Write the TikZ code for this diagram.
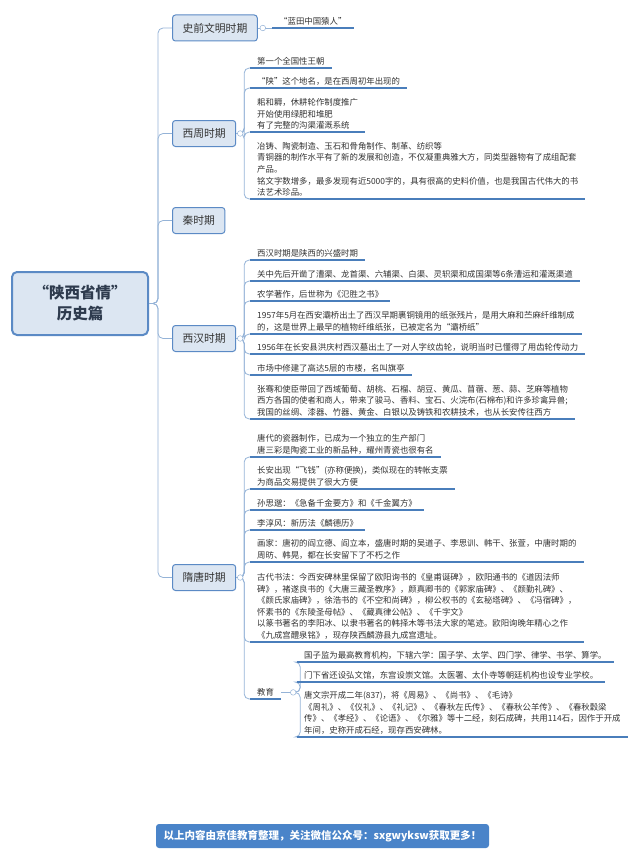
\documentclass[tikz,border=0pt]{standalone}
\usepackage{fontspec}
\newfontfamily\cjk{Noto Sans CJK SC}
\usetikzlibrary{positioning}
\definecolor{lineblue}{HTML}{4A7EBB}
\definecolor{trunkblue}{HTML}{95B3D7}
\definecolor{boxfill}{HTML}{DCE6F2}
\definecolor{boxedge}{HTML}{5B8AC5}
\definecolor{bannerblue}{HTML}{4A84C9}
\definecolor{txt}{HTML}{333333}
\definecolor{roottxt}{HTML}{2E3B4E}
\tikzset{root/.style={draw=boxedge,line width=2pt,fill=boxfill,rounded corners=5pt,minimum width=136,minimum height=63,align=center,font=\cjk\bfseries\fontsize{15.5}{21}\selectfont,text=roottxt}}
\tikzset{period/.style={draw=boxedge,line width=1pt,fill=boxfill,rounded corners=3pt,minimum height=26,inner xsep=10pt,anchor=west,font=\cjk\fontsize{10.8}{13}\selectfont,text=txt}}
\tikzset{item/.style={anchor=south west,inner xsep=7pt,inner ysep=2.5pt,align=left,font=\cjk\fontsize{8.4}{11.6}\selectfont,text=txt}}
\tikzset{uline/.style={draw=lineblue,line width=1.6pt}}
\tikzset{trunk/.style={draw=trunkblue,line width=0.8pt,rounded corners=5pt}}
\tikzset{knob/.style={draw=trunkblue,fill=white,line width=0.5pt}}
\tikzset{banner/.style={fill=bannerblue,rounded corners=3pt,minimum width=333,minimum height=24,font=\cjk\bfseries\fontsize{10.5}{12}\selectfont,text=white}}

\begin{document}
\begin{tikzpicture}[x=1pt,y=-1pt]
  \useasboundingbox (0,0) rectangle (640,859);
  \node[root] (root) at (80,303.5) {“陕西省情”\\历史篇};
  \node[period] (shiqian) at (172,28) {史前文明时期};
  \node[period] (xizhou) at (172,133.5) {西周时期};
  \node[period] (qin) at (172,220.5) {秦时期};
  \node[period] (xihan) at (172,338.5) {西汉时期};
  \node[period] (suitang) at (172,577.5) {隋唐时期};

  \node[item] (lantian) at (272,28) {“蓝田中国猿人”};

  \node[item] (zhou1) at (250,68) {第一个全国性王朝};
  \node[item] (zhou2) at (250,88) {“陕”这个地名，是在西周初年出现的};
  \node[item] (zhou3) at (250,132) {耜和耨，休耕轮作制度推广\\开始使用绿肥和堆肥\\有了完整的沟渠灌溉系统};
  \node[item] (zhou4) at (250,199) {冶铸、陶瓷制造、玉石和骨角制作、制革、纺织等\\青铜器的制作水平有了新的发展和创造，不仅凝重典雅大方，同类型器物有了成组配套\\产品。\\铭文字数增多，最多发现有近5000字的，具有很高的史料价值，也是我国古代伟大的书\\法艺术珍品。};

  \node[item] (han1) at (250,260) {西汉时期是陕西的兴盛时期};
  \node[item] (han2) at (250,281) {关中先后开凿了漕渠、龙首渠、六辅渠、白渠、灵轵渠和成国渠等6条漕运和灌溉渠道};
  \node[item] (han3) at (250,301) {农学著作，后世称为《氾胜之书》};
  \node[item] (han4) at (250,334) {1957年5月在西安灞桥出土了西汉早期裹铜镜用的纸张残片，是用大麻和苎麻纤维制成\\的，这是世界上最早的植物纤维纸张，已被定名为“灞桥纸”};
  \node[item] (han5) at (250,354) {1956年在长安县洪庆村西汉墓出土了一对人字纹齿轮，说明当时已懂得了用齿轮传动力};
  \node[item] (han6) at (250,375) {市场中修建了高达5层的市楼，名叫旗亭};
  \node[item] (han7) at (250,419) {张骞和使臣带回了西域葡萄、胡桃、石榴、胡豆、黄瓜、苜蓿、葱、蒜、芝麻等植物\\西方各国的使者和商人，带来了骏马、香料、宝石、火浣布(石棉布)和许多珍禽异兽;\\我国的丝绸、漆器、竹器、黄金、白银以及铸铁和农耕技术，也从长安传往西方};

  \node[item] (tang1) at (250,457) {唐代的瓷器制作，已成为一个独立的生产部门\\唐三彩是陶瓷工业的新品种，耀州青瓷也很有名};
  \node[item] (tang2) at (250,489) {长安出现“飞钱”(亦称便换)，类似现在的转帐支票\\为商品交易提供了很大方便};
  \node[item] (tang3) at (250,510) {孙思邈：《急备千金要方》和《千金翼方》};
  \node[item] (tang4) at (250,530) {李淳风：新历法《麟德历》};
  \node[item] (tang5) at (250,562) {画家：唐初的阎立德、阎立本，盛唐时期的吴道子、李思训、韩干、张萱，中唐时期的\\周昉、韩晃，都在长安留下了不朽之作};
  \node[item] (tang6) at (250,642) {古代书法：今西安碑林里保留了欧阳询书的《皇甫诞碑》，欧阳通书的《道因法师\\碑》，褚遂良书的《大唐三藏圣教序》，颜真卿书的《郭家庙碑》、《颜勤礼碑》、\\《颜氏家庙碑》，徐浩书的《不空和尚碑》，柳公权书的《玄秘塔碑》、《冯宿碑》，\\怀素书的《东陵圣母帖》、《藏真律公帖》、《千字文》\\以篆书著名的李阳冰、以隶书著名的韩择木等书法大家的笔迹。欧阳询晚年精心之作\\《九成宫醴泉铭》，现存陕西麟游县九成宫遗址。};
  \node[item] (jiaoyu) at (250,699) {教育};

  \node[item] (edu1) at (297,662) {国子监为最高教育机构，下辖六学：国子学、太学、四门学、律学、书学、算学。};
  \node[item] (edu2) at (297,682) {门下省还设弘文馆，东宫设崇文馆。太医署、太仆寺等朝廷机构也设专业学校。};
  \node[item] (edu3) at (297,737) {唐文宗开成二年(837)，将《周易》、《尚书》、《毛诗》\\《周礼》、《仪礼》、《礼记》、《春秋左氏传》、《春秋公羊传》、《春秋穀梁\\传》、《孝经》、《论语》、《尔雅》等十二经，刻石成碑，共用114石，因作于开成\\年间，史称开成石经，现存西安碑林。};

  \node[banner] (banner) at (322.5,836) {以上内容由京佳教育整理，关注微信公众号：sxgwyksw获取更多！};

  \foreach \n in {shiqian,xizhou,qin,xihan,suitang}
    \draw[trunk] (root.east) -- ++(9,0) |- (\n.west);
  \draw[trunk] (shiqian.east) -- (lantian.south west);
  \foreach \n in {zhou1,zhou2,zhou3,zhou4}
    \draw[trunk] (xizhou.east) -- ++(8,0) |- (\n.south west);
  \foreach \n in {han1,han2,han3,han4,han5,han6,han7}
    \draw[trunk] (xihan.east) -- ++(8,0) |- (\n.south west);
  \foreach \n in {tang1,tang2,tang3,tang4,tang5,tang6,jiaoyu}
    \draw[trunk] (suitang.east) -- ++(8,0) |- (\n.south west);
  \foreach \n in {edu1,edu2,edu3}
    \draw[trunk] (jiaoyu.east) -- ++(19,0) |- (\n.south west);
  \foreach \n in {lantian,zhou1,zhou2,zhou3,zhou4,han1,han2,han3,han4,han5,han6,han7,tang1,tang2,tang3,tang4,tang5,tang6,jiaoyu,edu1,edu2,edu3}
    \draw[uline] (\n.south west) -- (\n.south east);
  \draw[knob] ([xshift=5pt]shiqian.east) circle (2.8pt);
  \foreach \n in {xizhou,xihan,suitang}
    \draw[knob] ([xshift=4pt]\n.east) circle (2.8pt);
  \draw[knob] ([xshift=12pt]jiaoyu.east) circle (2.8pt);
\end{tikzpicture}
\end{document}
